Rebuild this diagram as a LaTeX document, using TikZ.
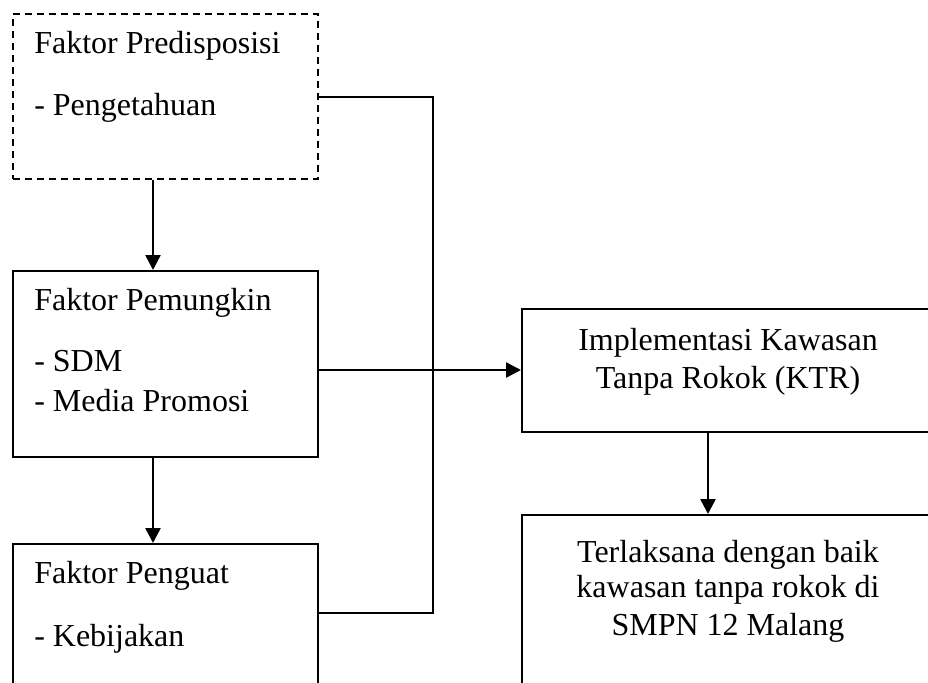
\documentclass[tikz,border=0pt]{standalone}
\usepackage{fontspec}
\setmainfont{Liberation Serif}
\usetikzlibrary{arrows.meta}

\tikzset{
  box/.style={draw, line width=0.7pt, anchor=north west, inner sep=0pt},
  txt/.style={anchor=base west, inner sep=0pt, font=\fontsize{12.8}{15}\selectfont},
  ctxt/.style={anchor=base, inner sep=0pt, font=\fontsize{12.8}{15}\selectfont},
  arr/.style={-{Triangle[length=6pt, width=6pt]}},
}

\begin{document}
\begin{tikzpicture}[x=0.4pt, y=-0.4pt, line width=1pt]

  \useasboundingbox (0,0) rectangle (928,682);
  \clip (0,0) rectangle (928,682);

  % left column
  \node[box, dashed, dash pattern=on 2.8pt off 2pt, minimum width=122pt, minimum height=66pt] (pred) at (12,13) {};
  \node[txt] (predT) at (33,53) {Faktor Predisposisi};
  \node[txt] (predA) at (33,115) {- Pengetahuan};

  \node[box, minimum width=122pt, minimum height=74.4pt] (pemu) at (12,270) {};
  \node[txt] (pemuT) at (33,310) {Faktor Pemungkin};
  \node[txt] (pemuA) at (33,371) {- SDM};
  \node[txt] (pemuB) at (33,411) {- Media Promosi};

  \node[box, minimum width=122pt, minimum height=64pt] (peng) at (12,543) {};
  \node[txt] (pengT) at (33,583) {Faktor Penguat};
  \node[txt] (pengA) at (33,646) {- Kebijakan};

  % right column
  \node[box, minimum width=167.6pt, minimum height=49.2pt] (ktr) at (521,308) {};
  \node[ctxt] (ktrA) at (728,350) {Implementasi Kawasan};
  \node[ctxt] (ktrB) at (728,388) {Tanpa Rokok (KTR)};

  \node[box, minimum width=167.6pt, minimum height=72pt] (hasil) at (521,514) {};
  \node[ctxt] (hasilA) at (728,562) {Terlaksana dengan baik};
  \node[ctxt] (hasilB) at (728,597) {kawasan tanpa rokok di};
  \node[ctxt] (hasilC) at (728,635) {SMPN 12 Malang};

  % connectors
  \coordinate (kiri) at (153,0);
  \coordinate (kanan) at (708,0);
  \coordinate (atas) at (433,97);
  \coordinate (tengah) at (433,370);
  \coordinate (bawah) at (433,613);

  \draw[arr] (pred.south -| kiri) -- (pemu.north -| kiri);
  \draw[arr] (pemu.south -| kiri) -- (peng.north -| kiri);
  \draw (pred.east |- atas) -- (atas) -- (bawah) -- (peng.east |- bawah);
  \draw[arr] (pemu.east |- tengah) -- (ktr.west |- tengah);
  \draw[arr] (ktr.south -| kanan) -- (hasil.north -| kanan);

\end{tikzpicture}
\end{document}
